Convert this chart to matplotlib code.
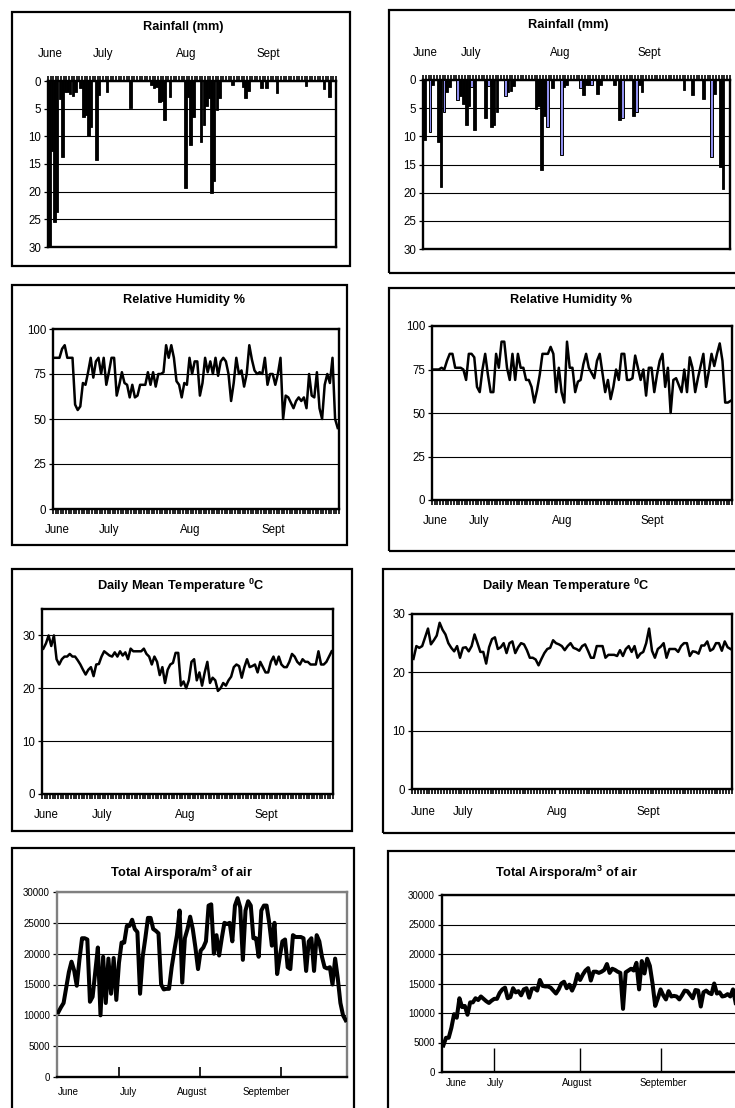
import numpy as np
import matplotlib
matplotlib.use('Agg')
import matplotlib.pyplot as plt
from matplotlib.patches import Rectangle

plt.rcParams['font.family'] = ['Liberation Sans', 'DejaVu Sans']
plt.rcParams['mathtext.fontset'] = 'custom'
plt.rcParams['mathtext.bf'] = 'Liberation Sans:bold'
plt.rcParams['mathtext.rm'] = 'Liberation Sans'

W, H = 735, 1108
N = 110  # days per panel

# Rainfall, left site (days with rain only)
rain_l_days = [0, 1, 2, 3, 4, 5, 6, 7, 8, 9, 10, 12, 13, 14, 15, 16, 18, 19, 22, 31,
               39, 40, 41, 42, 43, 44, 46, 52, 53, 54, 55, 58, 59, 60, 61, 62, 63, 64,
               65, 70, 74, 75, 76, 81, 83, 87, 98, 105, 107]
rain_l_mm = [30, 12.6, 25.4, 23.6, 3.2, 13.8, 2.0, 2.0, 2.3, 2.7, 2.0, 1.2, 6.5, 6.2, 9.9,
             8.4, 14.3, 2.5, 2.0, 4.9, 0.7, 1.2, 1.0, 3.8, 3.7, 7.1, 2.9, 19.3, 2.9, 11.5,
             6.5, 11.1, 8.0, 4.5, 3.0, 20.2, 18.1, 5.2, 3.0, 0.7, 1.0, 3.0, 1.8, 1.3, 1.2,
             2.1, 0.9, 1.5, 2.9]

# Rainfall, right site (two series: black and blue)
rain_r_days_k = [0, 3, 5, 6, 8, 9, 13, 14, 15, 16, 18, 22, 24, 25, 26, 30, 31, 32, 40, 41,
                 42, 43, 46, 50, 51, 57, 58, 59, 62, 63, 68, 70, 75, 77, 78, 93, 96, 100,
                 104, 106, 107]
rain_r_mm_k = [10.7, 0.8, 11.0, 19.0, 2.2, 1.2, 2.8, 4.2, 7.9, 4.6, 8.9, 6.7, 8.3, 7.9, 5.7,
               2.2, 2.0, 1.0, 5.1, 4.6, 15.9, 6.4, 1.4, 1.2, 0.9, 2.6, 0.9, 0.8, 2.4, 0.8,
               0.9, 7.1, 6.4, 0.9, 2.2, 1.8, 2.7, 3.4, 2.4, 15.5, 19.3]
rain_r_days_b = [2, 7, 12, 17, 23, 29, 44, 49, 56, 60, 71, 76, 103]
rain_r_mm_b = [9.3, 5.7, 3.6, 1.2, 1.0, 2.8, 8.3, 13.4, 1.4, 0.9, 6.7, 5.7, 13.7]

rh_l = [84, 84, 84, 89, 91, 84, 84, 84, 58, 55, 57, 70, 69, 76, 84, 73, 82, 84, 75, 84,
        69, 76, 84, 84, 63, 69, 76, 70, 69, 62, 69, 62, 63, 69, 69, 69, 76, 69, 76, 68,
        75, 75, 76, 91, 84, 91, 84, 71, 69, 62, 70, 69, 84, 75, 82, 82, 63, 70, 84, 76,
        82, 75, 84, 74, 82, 84, 82, 75, 60, 70, 84, 75, 77, 68, 75, 91, 83, 77, 75, 76,
        75, 84, 69, 75, 75, 69, 75, 84, 50, 63, 62, 59, 56, 60, 62, 60, 62, 56, 75, 63,
        62, 76, 56, 50, 69, 75, 70, 84, 50, 45]

rh_r = [75, 75, 75, 76, 75, 80, 84, 84, 76, 76, 76, 75, 69, 84, 84, 82, 65, 62, 75, 84,
        72, 62, 62, 84, 76, 91, 91, 76, 69, 84, 69, 84, 76, 76, 69, 69, 65, 56, 63, 72,
        84, 84, 84, 88, 84, 62, 76, 62, 56, 91, 76, 76, 62, 68, 69, 78, 84, 76, 73, 70,
        80, 84, 73, 62, 69, 58, 65, 75, 69, 84, 84, 69, 69, 70, 83, 76, 69, 75, 60, 76,
        76, 62, 72, 80, 84, 65, 76, 50, 69, 70, 66, 62, 75, 62, 82, 76, 62, 70, 77, 84,
        65, 74, 84, 77, 84, 90, 80, 56, 56, 57]

temp_l = [27.5, 28.5, 30, 28, 30, 25.5, 24.5, 25.5, 26, 26, 26.5, 26, 26, 25.3, 24.5, 23.5,
          22.6, 23.5, 24, 22.3, 24.5, 24.6, 26, 27, 26.6, 26.2, 26, 26.8, 26, 27, 26.2,
          26.8, 25.5, 27.5, 27, 27, 27, 27, 27.5, 26.5, 26, 24.5, 26, 25, 22.5, 24, 21,
          23.5, 24.5, 24.8, 26.7, 26.7, 20.5, 21.3, 20, 21.5, 25, 25.5, 21.5, 23, 20.5, 23,
          25, 21, 22, 21.5, 19.5, 20, 21, 20.5, 21.5, 22.2, 24, 24.5, 24.2, 22, 24, 25.5,
          24, 24.2, 24.5, 23, 25, 24, 23, 23, 25, 26, 24.5, 26, 24.5, 24, 24, 25, 26.5, 26,
          25, 24.5, 25.5, 25, 25, 24.5, 24.5, 24.5, 27, 24.5, 24.5, 25, 26, 27]

temp_r = [22.3, 24.5, 24.2, 24.5, 26, 27.5, 24.8, 25.5, 26.3, 28.5, 27.3, 26.5, 25, 24.2,
          23.6, 24.5, 22.5, 24.2, 24.3, 23.6, 24.5, 26.5, 25, 23.5, 23.5, 21.5, 24.3, 25.7,
          26, 24, 24.3, 25, 23.3, 25, 25.3, 23.3, 24.3, 25, 24.8, 23.8, 22.5, 22.5, 22.2,
          21.2, 22.3, 23.3, 24, 24.2, 25.5, 25, 24.8, 24.5, 23.8, 24.5, 25, 24.2, 24, 23.7,
          24.5, 24.8, 23.7, 22.5, 22.5, 24.5, 24.5, 24.5, 22.5, 23, 23, 23, 22.8, 23.8,
          22.8, 24, 24.5, 23.5, 24.5, 22.5, 23.2, 23.5, 25, 27.5, 23.7, 22.5, 24, 24.4, 25,
          22.5, 24, 24, 24, 23.5, 24.5, 25, 25, 22.8, 23.6, 23.5, 23.2, 24.6, 24.6, 25.3,
          23.7, 24, 25, 25, 23.7, 25.3, 24.3, 24]

spora_l = [10500, 11300, 12000, 14500, 17000, 18700, 17300, 14800, 19000, 22500, 22500,
           22300, 12200, 13000, 17000, 21000, 10000, 19500, 12000, 19200, 13500, 19300,
           12500, 18500, 21800, 21800, 24500, 24500, 25500, 24000, 23500, 13500, 19500,
           22500, 25800, 25800, 24000, 23700, 23300, 15000, 14200, 14300, 14300, 17800,
           20500, 23000, 27000, 15300, 22500, 24000, 26000, 24000, 21000, 17500, 20500,
           21000, 22000, 27800, 28000, 20000, 23000, 19700, 22500, 25000, 24800, 25000,
           22000, 27800, 29000, 27500, 19000, 27000, 28500, 27800, 22500, 22500, 19500,
           27000, 27800, 27800, 25000, 21300, 25000, 16700, 19500, 22000, 22300, 17800,
           17500, 23000, 22700, 22700, 22700, 22500, 17200, 22000, 22500, 17200, 23000,
           22000, 19500, 17800, 17600, 17800, 15000, 19200, 16000, 12000, 10000, 9200]

spora_r = [4500, 5800, 5800, 7500, 9800, 9200, 12500, 11000, 11200, 9700, 11800, 11800,
           12500, 12200, 12800, 12400, 12000, 11700, 12100, 12400, 12400, 13400, 14000,
           14300, 12500, 12700, 14200, 13500, 13700, 13000, 14000, 14200, 12600, 14100,
           14200, 13800, 15600, 14600, 14500, 14500, 14300, 13800, 13300, 14000, 15000,
           15300, 14200, 14800, 13800, 14800, 16600, 15600, 16500, 17200, 17600, 15500,
           17000, 17000, 16800, 17000, 17300, 18300, 16800, 17500, 17300, 17000, 16800,
           10700, 16900, 17200, 17500, 17200, 18500, 14000, 18800, 16700, 19200, 18000,
           15000, 11200, 12500, 14000, 13000, 12300, 13700, 12800, 12900, 12800, 12300,
           13000, 13800, 13700, 13100, 12500, 13900, 13800, 11100, 13500, 13800, 13400,
           13200, 15000, 13300, 13500, 12800, 12900, 13200, 12800, 14000, 11700]

months = ['June', 'July', 'Aug', 'Sept']
months_long = ['June', 'July', 'August', 'September']

fig = plt.figure(figsize=(W / 100, H / 100), dpi=100)


def px_axes(x0, y0, x1, y1):
    return fig.add_axes([x0 / W, 1 - y1 / H, (x1 - x0) / W, (y1 - y0) / H])


def frame(x0, y0, x1, y1):
    fig.add_artist(Rectangle((x0 / W, 1 - y1 / H), (x1 - x0) / W, (y1 - y0) / H,
                             transform=fig.transFigure, fill=False, lw=1.6, ec='black'))


def title(x, y, s, size=9.2):
    fig.text(x / W, 1 - y / H, s, ha='center', va='center', fontsize=size, fontweight='bold')


def style_axes(ax, yticks, label_pos, labels, top=False, pad=10, daily=True):
    for sp in ax.spines.values():
        sp.set_linewidth(1.7)
    ax.set_xlim(-0.5, N - 0.5)
    ax.set_yticks(yticks)
    ax.yaxis.grid(True, color='black', lw=0.8)
    ax.set_axisbelow(True)
    ax.tick_params(axis='y', direction='out', length=3, width=0.9, labelsize=8.3, pad=2)
    ax.set_xticks(label_pos)
    ax.set_xticklabels(labels)
    ax.tick_params(axis='x', which='major', length=0, labelsize=8.3, pad=pad)
    if daily:
        ax.set_xticks(np.arange(N + 1) - 0.5, minor=True)
        ax.tick_params(axis='x', which='minor', direction='out', length=3.5, width=1.2)
    if top:
        ax.xaxis.tick_top()
        ax.xaxis.set_ticks_position('top')


# ---- Row 1: Rainfall ----
frame(12, 12, 350, 266)
title(183, 27, 'Rainfall (mm)')
ax1 = px_axes(48, 81, 336, 247)
ax1.bar(rain_l_days, rain_l_mm, width=0.95, color='black', edgecolor='black', lw=0.6, zorder=3)
ax1.set_ylim(30, 0)
style_axes(ax1, [0, 5, 10, 15, 20, 25, 30], [0.4, 20.6, 52.3, 83.6], months, top=True, pad=15)

frame(389, 10, 760, 273)
title(568, 25, 'Rainfall (mm)')
ax2 = px_axes(423, 80, 730, 249)
ax2.bar(rain_r_days_k, rain_r_mm_k, width=0.95, color='black', edgecolor='black', lw=0.6,
        zorder=3)
ax2.bar(rain_r_days_b, rain_r_mm_b, width=1.0, color='#8f8fef', edgecolor='black',
        lw=0.7, zorder=3)
ax2.set_ylim(30, 0)
style_axes(ax2, [0, 5, 10, 15, 20, 25, 30], [0.4, 16.8, 48.7, 80.6], months, top=True, pad=15)

# ---- Row 2: Relative humidity ----
frame(12, 285, 347, 545)
title(184, 300, 'Relative Humidity %')
ax3 = px_axes(53, 329, 339, 509)
ax3.plot(range(N), rh_l, color='black', lw=1.8, zorder=3)
ax3.set_ylim(0, 100)
style_axes(ax3, [0, 25, 50, 75, 100], [1.0, 21.2, 52.3, 84.2], months, pad=11)

frame(389, 288, 760, 551)
title(571, 300, 'Relative Humidity %')
ax4 = px_axes(432, 326, 732, 500)
ax4.plot(range(N), rh_r, color='black', lw=1.8, zorder=3)
ax4.set_ylim(0, 100)
style_axes(ax4, [0, 25, 50, 75, 100], [0.7, 16.8, 47.2, 80.2], months, pad=11)

# ---- Row 3: Temperature ----
frame(12, 569, 352, 831)
title(181, 586, r'Daily Mean Temperature $\mathbf{^0}$C')
ax5 = px_axes(42, 609, 333, 794)
ax5.plot(range(N), temp_l, color='black', lw=1.8, zorder=3)
ax5.set_ylim(0, 35)
style_axes(ax5, [0, 10, 20, 30], [1.1, 22.3, 53.7, 84.3], months, pad=11)

frame(383, 569, 760, 833)
title(566, 586, r'Daily Mean Temperature $\mathbf{^0}$C')
ax6 = px_axes(412, 614, 732, 789)
ax6.plot(range(N), temp_r, color='black', lw=1.8, zorder=3)
ax6.set_ylim(0, 30)
style_axes(ax6, [0, 10, 20, 30], [3.4, 17.2, 49.5, 80.8], months, pad=12)

# ---- Row 4: Total airspora ----
frame(12, 848, 354, 1120)
title(182, 873, r'Total Airspora/m$\mathbf{^3}$ of air')
ax7 = px_axes(57, 892, 347, 1077)
ax7.plot(range(N), spora_l, color='black', lw=2.9, zorder=3)
ax7.set_ylim(0, 30000)
style_axes(ax7, [0, 5000, 10000, 15000, 20000, 25000, 30000],
           [23.1, 53.8, 84.5], ['', '', ''], pad=10, daily=False)
ax7.tick_params(axis='x', which='major', direction='in', length=7, width=1.2)
ax7.set_xticks([3.8, 26.5, 50.8, 78.8], minor=True)
ax7.set_xticklabels(months_long, minor=True)
ax7.tick_params(axis='x', which='minor', length=0, labelsize=7, pad=7)
ax7.tick_params(axis='y', labelsize=7)
for s in ['left', 'top', 'right']:
    ax7.spines[s].set_color('#808080')

frame(388, 851, 760, 1120)
title(567, 873, r'Total Airspora/m$\mathbf{^3}$ of air')
ax8 = px_axes(442, 895, 737, 1072)
ax8.plot(range(N), spora_r, color='black', lw=2.9, zorder=3)
ax8.set_ylim(0, 30000)
style_axes(ax8, [0, 5000, 10000, 15000, 20000, 25000, 30000],
           [19.0, 51.1, 81.0], ['', '', ''], pad=10, daily=False)
ax8.tick_params(axis='x', which='major', direction='in', length=17, width=1.0)
ax8.set_xticks([4.9, 19.4, 50.0, 82.1], minor=True)
ax8.set_xticklabels(months_long, minor=True)
ax8.tick_params(axis='x', which='minor', length=0, labelsize=7, pad=4)
ax8.tick_params(axis='y', labelsize=7)

fig.savefig('out.png', dpi=100)
